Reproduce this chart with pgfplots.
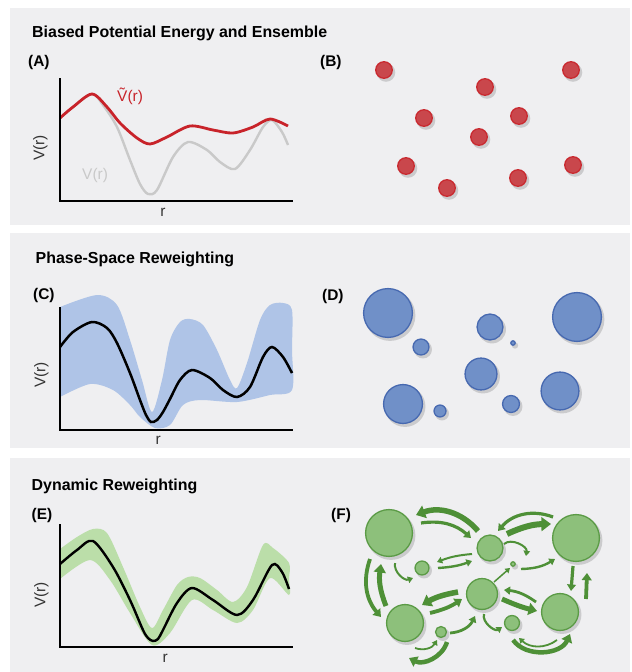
\documentclass[border=0pt]{standalone}
\usepackage{fontspec}
\setmainfont{Liberation Sans}
\usepackage{pgfplots}
\pgfplotsset{compat=1.18}
\usepackage{pgfplotstable}
\usetikzlibrary{arrows.meta}

\definecolor{panel}{HTML}{EFEFF1}
\definecolor{vred}{HTML}{C8232A}
\definecolor{vgray}{HTML}{C9C9C9}
\definecolor{redfill}{HTML}{C9474C}
\definecolor{redline}{HTML}{C92A30}
\definecolor{bluefill}{HTML}{7090C8}
\definecolor{blueline}{HTML}{4769B0}
\definecolor{bandblue}{HTML}{AFC4E7}
\definecolor{greenfill}{HTML}{8DC07B}
\definecolor{greenline}{HTML}{5B9B46}
\definecolor{bandgreen}{HTML}{BBDEA9}
\definecolor{arrowgreen}{HTML}{4E9037}

% circle ensembles, pixel coordinates (y from top), radius
\pgfplotstableread{
x y r
384 70 8.3
571 70 8.3
485 87 8.3
424 118 8.3
519 116 8.3
479 137 8.3
406 166 8.3
447 188 8.3
518 178 8.3
573 165 8.3
}\redpts
\pgfplotstableread{
x y r
388 313 24.5
421 347 8
490 327 13
513 343 2.2
577 317 24.5
481 374 16
403 404 19.5
440 411 6
511 404 8.5
560 391 19
}\bluepts
\pgfplotstableread{
x y r
389 533 23.5
422 568 7
490 548 13
513 564 2.2
576 538 23.5
482 594 15.5
405 623 18.5
441 632 5.5
512 623 7.5
560 612 18.5
}\greenpts

\pgfplotsset{
  curvepanel/.style={
    scale only axis, width=232bp, height=122bp,
    xmin=60, xmax=292, ymin=0, ymax=122,
    axis lines=left, axis line style={-, line width=2.6bp, black, line cap=rect},
    xtick=\empty, ytick=\empty, clip=false, axis on top,
    xlabel={r}, ylabel={V(r)},
    label style={font=\fontsize{15.5}{18}\selectfont, text=black!80, inner sep=0pt},
  },
}
\tikzset{
  ttl/.style={anchor=base west, inner sep=0pt, font=\bfseries\fontsize{16}{19}\selectfont},
  plab/.style={anchor=base west, inner sep=0pt, font=\bfseries\fontsize{15.5}{18}\selectfont},
  ga/.style={draw=arrowgreen, line width=#1, -{Triangle[length=3bp 1.1, width=3bp 1.8]}},
}

\newcommand{\balls}[3]{%
  \addplot[scatter, only marks, mark=*,
    scatter/use mapped color={draw opacity=0, fill=black, fill opacity=0.15},
    visualization depends on={\thisrow{r}\as\rad},
    scatter/@pre marker code/.append style={/tikz/mark size=\rad+1}]
    table[x expr=\thisrow{x}+2, y expr=-\thisrow{y}-2.5] {#1};
  \addplot[scatter, only marks, mark=*,
    scatter/use mapped color={draw=#3, fill=#2, line width=1.3bp},
    visualization depends on={\thisrow{r}\as\rad},
    scatter/@pre marker code/.append style={/tikz/mark size=\rad}]
    table[x=x, y expr=-\thisrow{y}] {#1};
}

\begin{document}
\begin{tikzpicture}
\path[use as bounding box] (0,0) rectangle (632bp,-672bp);
\fill[panel] (10bp,-8bp) rectangle (630bp,-225bp);
\fill[panel] (10bp,-233bp) rectangle (630bp,-448bp);
\fill[panel] (10bp,-458bp) rectangle (630bp,-672bp);

\node[ttl] at (32bp,-37.5bp) {Biased Potential Energy and Ensemble};
\node[ttl] at (35.5bp,-263bp) {Phase-Space Reweighting};
\node[ttl] at (31.5bp,-490bp) {Dynamic Reweighting};
\node[plab] at (28bp,-66bp) {(A)};
\node[plab] at (320bp,-66bp) {(B)};
\node[plab] at (33bp,-299bp) {(C)};
\node[plab] at (322bp,-300bp) {(D)};
\node[plab] at (31.5bp,-519bp) {(E)};
\node[plab] at (331bp,-519bp) {(F)};

% (A) biased potential
\begin{axis}[curvepanel, at={(60bp,-201bp)}, anchor=south west,
  xlabel style={at={(axis description cs:0.444,0)}, anchor=north, yshift=-7bp},
  ylabel style={at={(axis description cs:-0.085,0.434)}, anchor=center}]
\addplot[vgray, line width=2.4bp, smooth] coordinates {
 (60,83) (73,94) (92,107) (103,96) (117,74) (130,41) (140,17) (148,7)
 (157,11) (173,44) (188,59) (207,51) (220,39) (235,32) (250,51) (263,74)
 (272,81) (282,69) (288,56)};
\addplot[vred, line width=2.8bp, smooth] coordinates {
 (60,83) (73,94) (92,107) (107,94) (120,78) (137,63) (150,57) (167,64)
 (190,75) (213,71) (233,68) (253,74) (270,82) (288,75)};
\node[anchor=base west, inner sep=0pt, text=vred, font=\fontsize{15.5}{18}\selectfont]
  at (axis cs:117,100) {\~{V}(r)};
\node[anchor=base west, inner sep=0pt, text=vgray, font=\fontsize{15.5}{18}\selectfont]
  at (axis cs:82,22) {V(r)};
\end{axis}

% (C) phase-space reweighting: band = upper edge, then lower edge reversed
\begin{axis}[curvepanel, at={(60bp,-430bp)}, anchor=south west,
  xlabel style={at={(axis description cs:0.423,0)}, anchor=north, yshift=-6bp},
  ylabel style={at={(axis description cs:-0.08,0.45)}, anchor=center}]
\addplot[fill=bandblue, draw=none, smooth, tension=0.5] coordinates {
 (60,123) (97,135) (117,125) (130,90) (142,50) (152,18) (162,50) (170,90)
 (180,108) (190,111) (203,105) (217,80) (230,50) (237,42) (247,67) (260,110)
 (270,125) (283,127) (292,120) (292,80)
 (292,40) (270,35) (237,28) (200,30) (183,25) (170,5) (155,2) (140,13)
 (130,25) (113,40) (90,46) (60,33)} -- cycle;
\addplot[black, line width=2.5bp, smooth] coordinates {
 (60,83) (73,98) (92,108) (107,102) (117,87) (130,57) (140,30) (146,15)
 (151,8) (157,10) (163,18) (170,31) (180,50) (192,60) (210,52) (223,40)
 (237,33) (250,43) (263,73) (272,83) (283,73) (292,57)};
\end{axis}

% (E) dynamic reweighting
\begin{axis}[curvepanel, at={(60bp,-647bp)}, anchor=south west,
  xlabel style={at={(axis description cs:0.453,0)}, anchor=north, yshift=-7bp},
  ylabel style={at={(axis description cs:-0.08,0.426)}, anchor=center}]
\addplot[fill=bandgreen, draw=none, smooth, tension=0.5] coordinates {
 (60,98) (77,110) (93,118) (107,114) (123,80) (140,40) (152,19) (163,37)
 (177,62) (188,70) (200,69) (217,57) (233,45) (247,60) (263,102) (273,99)
 (289,84) (289,68)
 (289,52) (270,69) (253,37) (237,24) (213,37) (192,47) (170,14) (152,2)
 (130,34) (110,67) (90,87) (60,68)} -- cycle;
\addplot[black, line width=2.4bp, smooth] coordinates {
 (60,83) (77,97) (93,106) (113,80) (130,47) (143,17) (148,9) (153,6)
 (158,8) (163,17) (177,44) (192,59) (213,47) (237,32) (253,47) (272,82)
 (282,75) (289,58)};
\end{axis}

% (B), (D), (F) ensembles
\begin{axis}[at={(0bp,-672bp)}, anchor=south west, scale only axis,
  width=632bp, height=672bp, xmin=0, xmax=632, ymin=-672, ymax=0,
  axis lines=none, clip=false]
\balls{\redpts}{redfill}{redline}
\balls{\bluepts}{bluefill}{blueline}
\balls{\greenpts}{greenfill}{greenline}
\draw[ga=5.5bp] (478,-531) to[bend right=35] (416,-515);
\draw[ga=3.2bp] (421,-523) to[bend left=25] (471,-538);
\draw[ga=3.2bp] (553,-517) to[bend right=35] (498,-531);
\draw[ga=6bp] (507,-534) to[bend left=12] (551,-524);
\draw[ga=2bp] (504,-544) to[bend left=70] (526,-556);
\draw[ga=2bp] (472,-554) to[bend right=8] (437,-562);
\draw[ga=2.4bp] (438,-568) to[bend right=8] (472,-561);
\draw[ga=2bp] (395,-563) to[bend right=60] (413,-578);
\draw[ga=2.4bp] (521,-569) to[bend right=15] (555,-559);
\draw[ga=1.5bp] (494,-582) -- (510,-568);
\draw[ga=3.2bp] (573,-566) -- (571,-591);
\draw[ga=3.8bp] (586,-599) -- (587,-573);
\draw[ga=2.8bp] (536,-602) to[bend right=15] (504,-590);
\draw[ga=5bp] (502,-599) to[bend right=5] (537,-611);
\draw[ga=2.2bp] (484,-614) to[bend right=70] (502,-627);
\draw[ga=4.5bp] (513,-640) to[bend right=60] (570,-634);
\draw[ga=1.8bp] (557,-640) to[bend left=40] (519,-638);
\draw[ga=5.5bp] (458,-592) to[bend right=10] (422,-605);
\draw[ga=3.8bp] (430,-613) to[bend right=10] (462,-599);
\draw[ga=2.8bp] (450,-633) to[bend right=30] (475,-616);
\draw[ga=4.5bp] (447,-642) to[bend left=50] (409,-658);
\draw[ga=1.8bp] (415,-648) to[bend right=40] (437,-640);
\draw[ga=3.8bp] (370,-559) to[bend right=30] (381,-617);
\draw[ga=5bp] (386,-606) to[bend left=15] (381,-564);
\end{axis}
\end{tikzpicture}
\end{document}
